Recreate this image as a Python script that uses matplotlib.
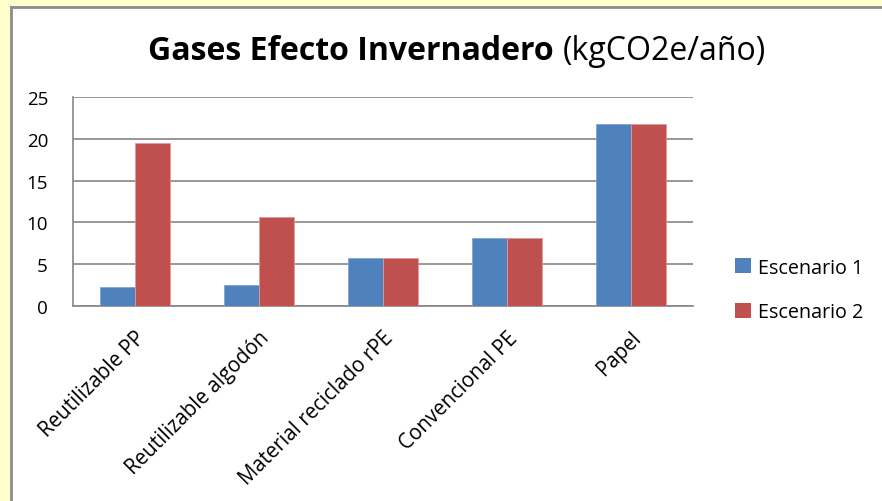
import matplotlib
matplotlib.use("Agg")
import matplotlib.pyplot as plt
from matplotlib.patches import Rectangle, Patch
import numpy as np

categories = ["Reutilizable PP", "Reutilizable algodón", "Material reciclado rPE",
              "Convencional PE", "Papel"]
escenario1 = [2.3, 2.5, 5.8, 8.1, 21.8]
escenario2 = [19.5, 10.6, 5.8, 8.1, 21.8]
series_names = ["Escenario 1", "Escenario 2"]
yticks = [0, 5, 10, 15, 20, 25]

BLUE = "#4F81BD"
RED = "#C0504D"
GRID = "#868686"
FONT = "Open Sans"

plt.rcParams['font.family'] = [FONT, 'DejaVu Sans']

W, H = 882, 502
fig = plt.figure(figsize=(W / 100, H / 100), dpi=100)
fig.patch.set_facecolor("#FFFFCC")

fx = lambda px: px / W
fy = lambda py: 1 - py / H

# white chart area with grey border (left & top)
bg = fig.add_axes([0, 0, 1, 1], zorder=0)
bg.set_xlim(0, W)
bg.set_ylim(H, 0)
bg.axis("off")
bg.add_patch(Rectangle((11, 8), W - 11, H - 8, facecolor="white", edgecolor="none"))
bg.plot([11, 11], [8, H], color="#8C8C8C", lw=2)
bg.plot([11, W], [8, 8], color="#8C8C8C", lw=2)

left, right, top, bottom = 73, 693, 98, 307
ax = fig.add_axes([fx(left), fy(bottom), fx(right) - fx(left), fy(top) - fy(bottom)], zorder=2)
ax.set_facecolor("white")

x = np.arange(len(categories))
bw = 0.285
ax.bar(x - bw / 2, escenario1, width=bw, color=BLUE, edgecolor="#7FA3D4", linewidth=0.6, zorder=3)
ax.bar(x + bw / 2, escenario2, width=bw, color=RED, edgecolor="#E09A98", linewidth=0.6, zorder=3)

ax.set_xlim(-0.5, len(categories) - 0.5)
ax.set_ylim(0, 25)
ax.set_yticks(yticks)
ax.set_yticklabels([str(v) for v in yticks], fontsize=13.5)
ax.yaxis.grid(True, color=GRID, linewidth=1.2, zorder=0)
ax.set_axisbelow(True)
ax.tick_params(axis='y', length=0, pad=18)
ax.tick_params(axis='x', length=0, pad=15)
ax.set_xticks(x)
ax.set_xticklabels(categories, rotation=45, ha="right", va="top",
                   rotation_mode="anchor", fontsize=14.8)

for s in ["top", "right"]:
    ax.spines[s].set_visible(False)
for s in ["left", "bottom"]:
    ax.spines[s].set_color(GRID)
    ax.spines[s].set_linewidth(1.2)

# title: bold part + regular part
t1 = fig.text(fx(148), fy(52), "Gases Efecto Invernadero", fontsize=23, fontweight="bold",
              ha="left", va="center")
fig.canvas.draw()
bb = t1.get_window_extent()
fig.text((bb.x1 + 9) / W, fy(52), "(kgCO2e/año)", fontsize=23, ha="left", va="center")

handles = [Patch(facecolor=BLUE), Patch(facecolor=RED)]
fig.legend(handles, series_names, loc="center left", bbox_to_anchor=(fx(717), fy(291)),
           frameon=False, fontsize=14.2, handlelength=0.8, handleheight=0.8,
           handletextpad=0.4, labelspacing=1.25)

fig.savefig("out.png", dpi=100)
